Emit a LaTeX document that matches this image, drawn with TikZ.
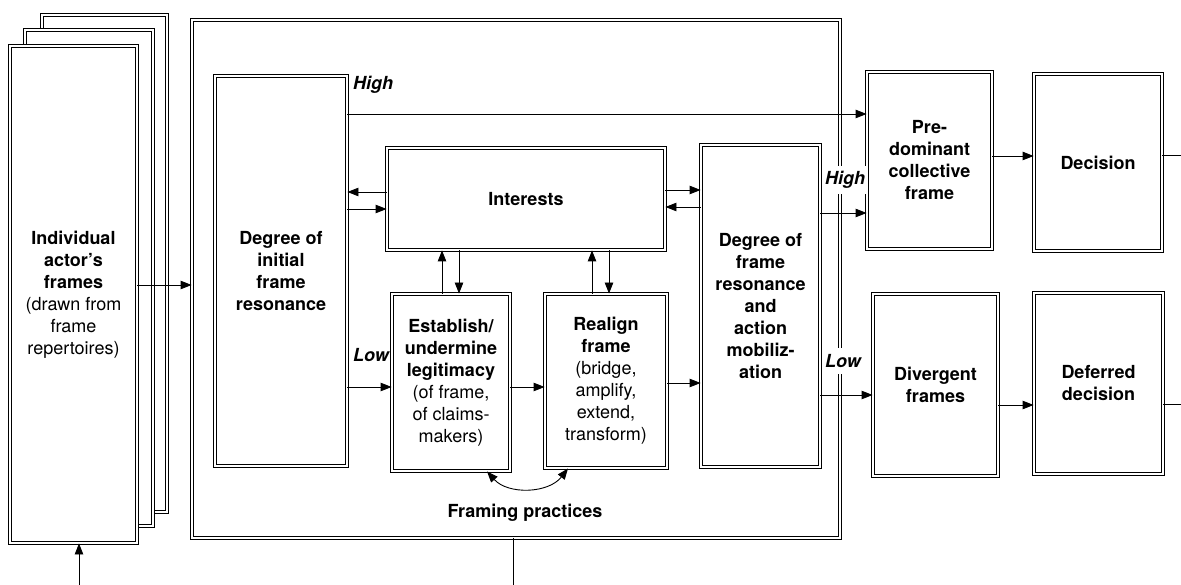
\documentclass[tikz,border=0pt]{standalone}
\usepackage{fontspec}
\setmainfont{TeX Gyre Heros}
\usetikzlibrary{arrows.meta}

\begin{document}
\begin{tikzpicture}
    [x=1pt, y=-1pt,
     block/.style={draw, double, double distance=2.4pt, line width=0.9pt, fill=white, align=center, inner sep=0pt, font=\fontsize{18}{22}\selectfont\bfseries},
     arr/.style={line width=0.9pt, -{Triangle[length=11pt,width=8.5pt]}},
     tag/.style={font=\fontsize{18}{22}\selectfont\bfseries\itshape, fill=white, inner sep=1pt}]
    \useasboundingbox (0,0) rectangle (1181,585);

    % stacked frames
    \node (back2) [block, minimum width=125, minimum height=497] at (104.5,263.5) {};
    \node (back1) [block, minimum width=128, minimum height=496] at (89,278) {};
    \node (front) [block, minimum width=127, minimum height=497] at (73.5,294.5) {Individual\\actor's\\frames\\\mdseries(drawn from\\\mdseries frame\\\mdseries repertoires)};

    % framing process
    \node (outer) [block, fill=none, minimum width=648, minimum height=518] at (516,279) {};
    \node (initial) [block, minimum width=132, minimum height=390] at (281,271) {Degree of\\initial\\frame\\resonance};
    \node (interests) [block, minimum width=278, minimum height=102] at (526,199) {Interests};
    \node (establish) [block, minimum width=118, minimum height=177] at (451,382.5) {Establish/\\undermine\\legitimacy\\\mdseries(of frame,\\\mdseries of claims-\\\mdseries makers)};
    \node (realign) [block, minimum width=122, minimum height=174] at (606,381) {Realign\\frame\\\mdseries(bridge,\\\mdseries amplify,\\\mdseries extend,\\\mdseries transform)};
    \node (resonance) [block, minimum width=119, minimum height=322] at (760.5,306) {Degree of\\frame\\resonance\\and\\action\\mobiliz-\\ation};
    \node (practices) [font=\fontsize{18}{22}\selectfont\bfseries] at (525,513) {Framing practices};

    % outcomes
    \node (predom) [block, minimum width=125, minimum height=177] at (929.5,160.5) {Pre-\\dominant\\collective\\frame};
    \node (decision) [block, minimum width=128, minimum height=177] at (1098,162.5) {Decision};
    \node (divergent) [block, minimum width=125, minimum height=182] at (935.5,385) {Divergent\\frames};
    \node (deferred) [block, minimum width=129, minimum height=181] at (1098.5,383.5) {Deferred\\decision};

    % labels
    \node (high1) [tag, fill=none] at (373,85) {High};
    \node (low1) [tag, fill=none] at (371,355) {Low};
    \node (high2) [tag, inner ysep=5pt] at (845,180) {High};
    \node (low2) [tag, inner ysep=6pt] at (843,361) {Low};

    % connectors
    \coordinate (in) at (79,585);
    \coordinate (out) at (513,585);
    \coordinate (right1) at (1181,155);
    \coordinate (right2) at (1181,404);
    \draw[arr] (in) -- (in |- front.south);
    \draw[line width=0.9pt] (outer.south -| out) -- (out);
    \draw[arr] (front.east |- 0,285) -- (outer.west |- 0,285);
    \draw[arr] (initial.east |- 0,114) -- (predom.west |- 0,114);
    \draw[arr] (initial.east |- 0,387) -- (establish.west |- 0,387);
    \draw[arr] (interests.west |- 0,192) -- (initial.east |- 0,192);
    \draw[arr] (initial.east |- 0,209) -- (interests.west |- 0,209);
    \draw[arr] (establish.north -| 442,0) -- (interests.south -| 442,0);
    \draw[arr] (interests.south -| 459,0) -- (establish.north -| 459,0);
    \draw[arr] (realign.north -| 592,0) -- (interests.south -| 592,0);
    \draw[arr] (interests.south -| 609,0) -- (realign.north -| 609,0);
    \draw[arr] (interests.east |- 0,190) -- (resonance.west |- 0,190);
    \draw[arr] (resonance.west |- 0,207) -- (interests.east |- 0,207);
    \draw[arr] (establish.east |- 0,387) -- (realign.west |- 0,387);
    \draw[arr] (realign.east |- 0,383) -- (resonance.west |- 0,383);
    \draw[line width=0.9pt, {Triangle[length=11pt,width=8.5pt]}-{Triangle[length=11pt,width=8.5pt]}] (establish.south -| 487,0) to[bend right=50] (realign.south -| 568,0);
    \draw[arr] (resonance.east |- 0,213) -- (predom.west |- 0,213);
    \draw[arr] (resonance.east |- 0,395) -- (divergent.west |- 0,395);
    \draw[arr] (predom.east |- 0,156) -- (decision.west |- 0,156);
    \draw[arr] (divergent.east |- 0,405) -- (deferred.west |- 0,405);
    \draw[line width=0.9pt] (decision.east |- right1) -- (right1);
    \draw[line width=0.9pt] (deferred.east |- right2) -- (right2);
\end{tikzpicture}
\end{document}
